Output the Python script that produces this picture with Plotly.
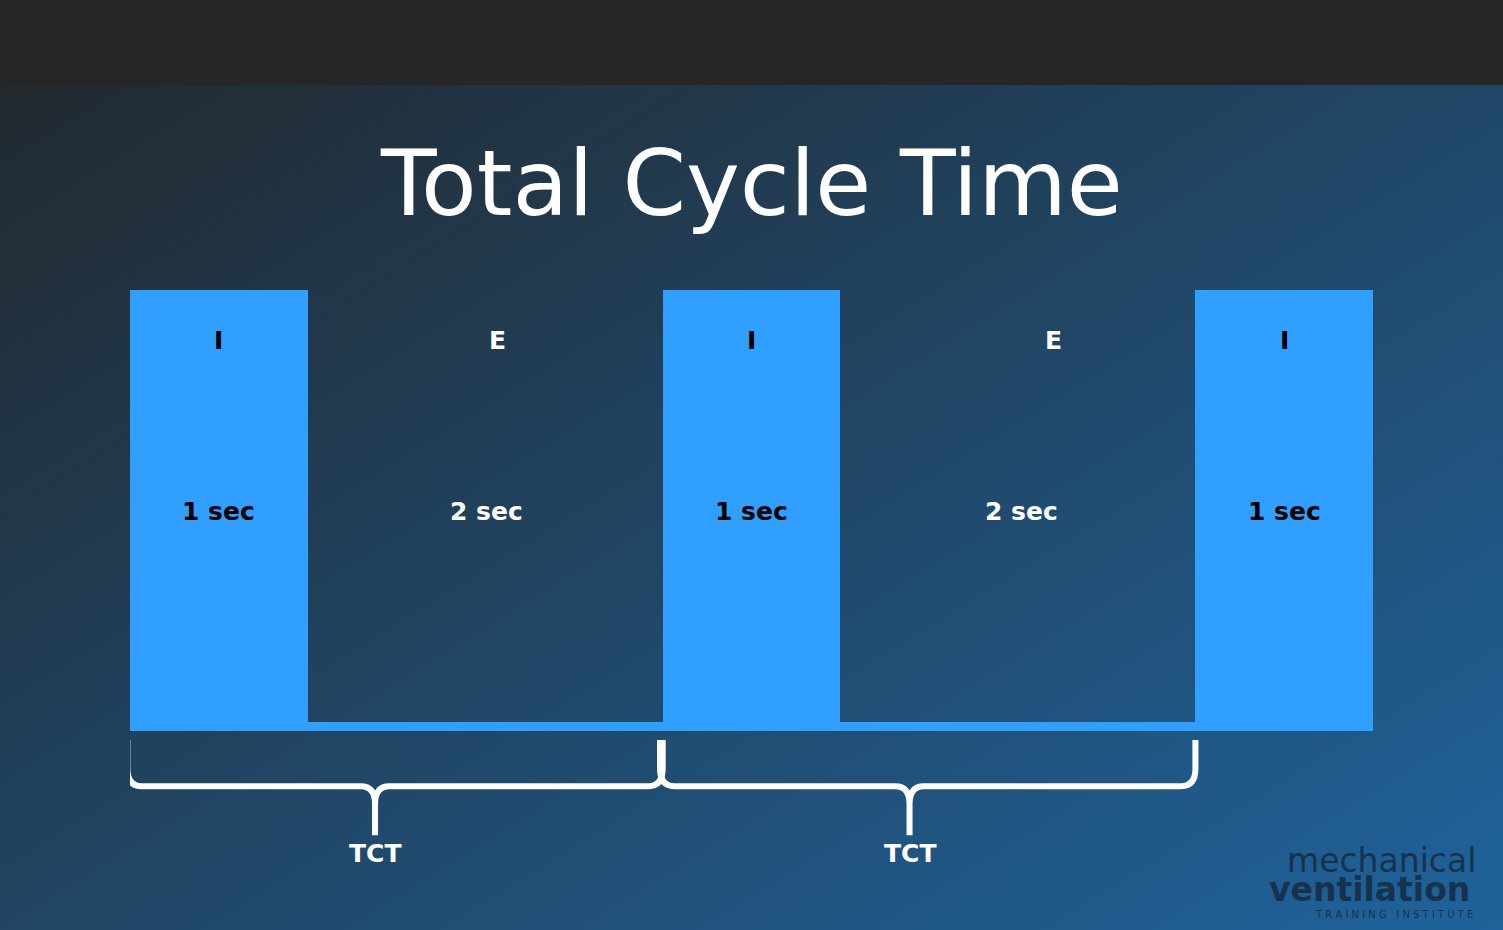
import plotly.graph_objects as go
import base64

phases = ["I", "E", "I", "E", "I"]
durations = [1, 2, 1, 2, 1]
dur_labels = ["1 sec", "2 sec", "1 sec", "2 sec", "1 sec"]
levels = [1, 0.02, 1, 0.02, 1]
phase_label_offsets = [0, 0.07, 0, 0.2, 0]
dur_label_offsets = [0, 0.01, 0, 0.02, 0]
tct_spans = [(0, 3), (3, 6)]
tct_tips = [1.38, 4.39]

BLUE = "#309ffd"
W, H = 1503, 930
starts = []
s = 0
for d in durations:
    starts.append(s)
    s += d
centers = [st + d / 2 for st, d in zip(starts, durations)]

fig = go.Figure()
fig.add_trace(go.Bar(x=centers, y=levels, width=durations, marker=dict(color=BLUE, line=dict(width=0)),
                     hoverinfo="skip"))
fig.add_trace(go.Bar(x=[3.5], y=[0.02], width=[7], marker=dict(color=BLUE, line=dict(width=0)), hoverinfo="skip"))

for p, c, lab, lv, dx, dx2 in zip(phases, centers, dur_labels, levels, phase_label_offsets, dur_label_offsets):
    col = "black" if lv > 0.5 else "white"
    fig.add_annotation(x=c + dx, y=0.886, text="<b>%s</b>" % p, showarrow=False,
                       font=dict(family="DejaVu Sans", size=25, color=col))
    fig.add_annotation(x=c + dx2, y=0.497, text="<b>%s</b>" % lab, showarrow=False,
                       font=dict(family="DejaVu Sans", size=25, color=col))

top, mid, tip = -0.02, -0.125, -0.236
for (a, b), m in zip(tct_spans, tct_tips):
    a0 = a - 0.015
    r, ry = 0.08, 0.04
    path = (f"M {a0},{top} L {a0},{mid+ry} Q {a0},{mid} {a0+r},{mid} L {m-r},{mid} "
            f"Q {m},{mid} {m},{mid-ry} L {m},{tip} M {m},{mid-ry} Q {m},{mid} {m+r},{mid} "
            f"L {b-r},{mid} Q {b},{mid} {b},{mid+ry} L {b},{top}")
    fig.add_shape(type="path", path=path, xref="x", yref="y", line=dict(color="white", width=6))
    fig.add_annotation(x=m, y=-0.277, text="<b>TCT</b>", showarrow=False,
                       font=dict(family="DejaVu Sans", size=25, color="white"))

fig.add_annotation(x=0.5, y=1 - 183 / H, xref="paper", yref="paper", yanchor="middle", text="Total Cycle Time",
                   showarrow=False, font=dict(family="DejaVu Sans", size=91, color="white"))

fig.add_annotation(x=1478 / W, y=1 - 860 / H, xref="paper", yref="paper", yanchor="middle", text="mechanical",
                   showarrow=False, xanchor="right", font=dict(family="DejaVu Sans", size=33, color="#16324d"))
fig.add_annotation(x=1472 / W, y=1 - 889 / H, xref="paper", yref="paper", yanchor="middle", text="<b>ventilation</b>",
                   showarrow=False, xanchor="right", font=dict(family="DejaVu Sans", size=33, color="#16324d"))
fig.add_annotation(x=1475 / W, y=1 - 914 / H, xref="paper", yref="paper", yanchor="middle",
                   text="T R A I N I N G   I N S T I T U T E",
                   showarrow=False, xanchor="right", font=dict(family="DejaVu Sans", size=10, color="#16324d"))

svg = """<svg xmlns='http://www.w3.org/2000/svg' width='1503' height='930' preserveAspectRatio='none'>
<defs><linearGradient id='g' x1='0' y1='0' x2='1' y2='1'>
<stop offset='0' stop-color='#222629'/><stop offset='1' stop-color='#1f639c'/></linearGradient></defs>
<rect width='1503' height='930' fill='url(#g)'/>
<rect width='1503' height='85' fill='#262626'/></svg>"""
uri = "data:image/svg+xml;base64," + base64.b64encode(svg.encode()).decode()
fig.add_layout_image(source=uri, xref="paper", yref="paper", x=0, y=1, sizex=1, sizey=1,
                     sizing="stretch", layer="below", xanchor="left", yanchor="top")

fig.update_layout(width=W, height=H, margin=dict(l=0, r=0, t=0, b=0, pad=0),
                  paper_bgcolor="#1f4e75", plot_bgcolor="rgba(0,0,0,0)",
                  showlegend=False, barmode="overlay", bargap=0)
fig.update_xaxes(range=[0, 7], visible=False, fixedrange=True, domain=[130 / W, 1373 / W])
fig.update_yaxes(range=[-0.451, 1], visible=False, fixedrange=True, domain=[0, 1 - 290 / H])
fig.write_html("out.html", config={"displayModeBar": False},
               post_script="document.body.style.margin='0';document.body.style.overflow='hidden';")
